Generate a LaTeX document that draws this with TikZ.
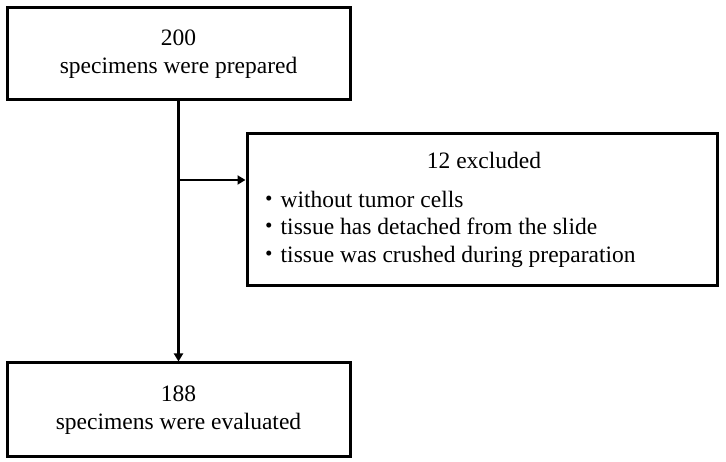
\documentclass[tikz,border=0pt]{standalone}
\usepackage{fontspec}
\setmainfont{Liberation Serif}
\newfontfamily\cjk{Noto Sans CJK JP}
\usetikzlibrary{arrows.meta}
\begin{document}
\begin{tikzpicture}[x=1pt,y=1pt,
  box/.style={draw=black,line width=3pt,rectangle,inner sep=0pt},
  txt/.style={font=\fontsize{23.5}{27.5}\selectfont,inner sep=0pt},
  conn/.style={line width=2.8pt,-{Triangle[length=8pt,width=9pt]}}]
\useasboundingbox (0,0) rectangle (726,462);
% top box: x 7-350, y 8-100 (image coords)
\node[box,minimum width=343pt,minimum height=92pt] (top) at (178.5,408) {};
\node[txt,align=center] (toptext) at (top.center) {200\\specimens were prepared};
% bottom box: x 7-350, y 363-457
\node[box,minimum width=343pt,minimum height=94pt] (bot) at (178.5,52) {};
\node[txt,align=center] (bottext) at (bot.center) {188\\specimens were evaluated};
% excluded box: x 247-717, y 134-286
\node[box,minimum width=470pt,minimum height=152pt] (excl) at (482,252) {};
\node[txt,anchor=base] (excltitle) at (484,293) {12 excluded};
\node[txt,anchor=base west,align=left] (excllist) at (257,199.5) {{\cjk ・}without tumor cells\\{\cjk ・}tissue has detached from the slide\\{\cjk ・}tissue was crushed during preparation};
% connectors
\coordinate (branch) at (178.5,282);
\draw[conn] (top.south) -- (bot.north);
\draw[conn] (branch) -- (branch -| excl.west);
\end{tikzpicture}
\end{document}
